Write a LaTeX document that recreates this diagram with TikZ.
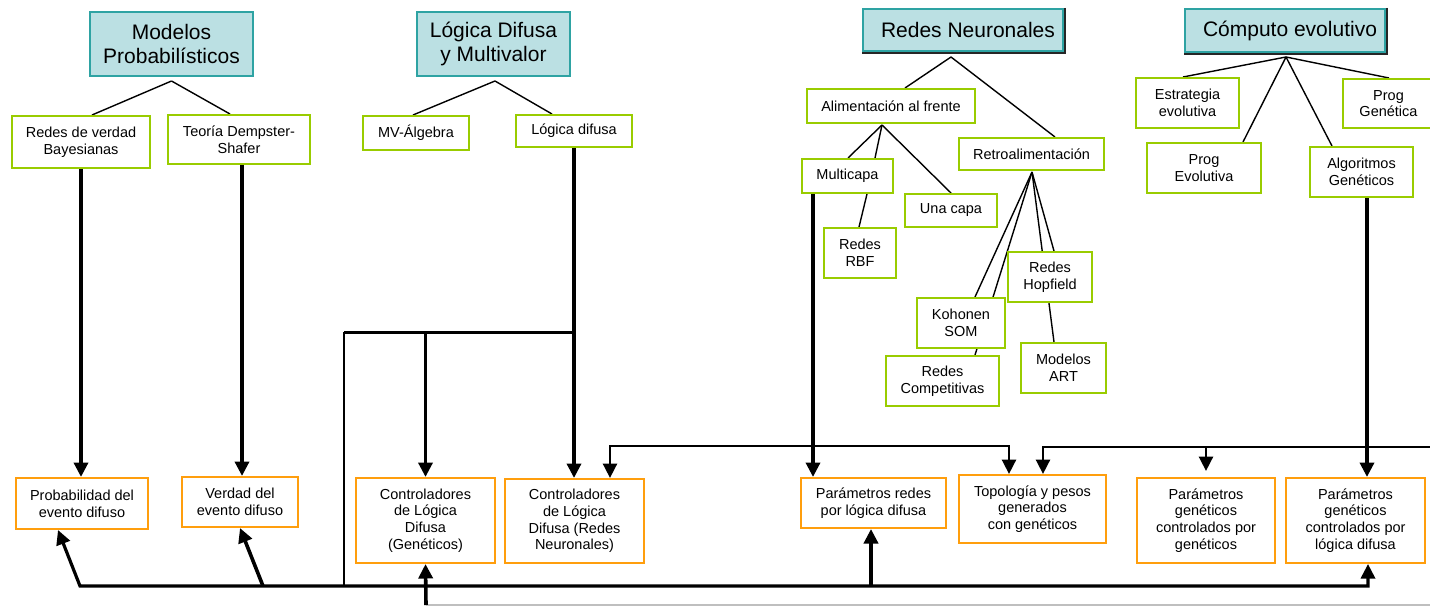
\documentclass[tikz,border=0pt]{standalone}
\usepackage{fontspec}
\setmainfont{Liberation Sans}
\usetikzlibrary{arrows.meta,backgrounds,calc}
\definecolor{tealfill}{HTML}{BBE0E3}
\definecolor{tealline}{HTML}{2EA3A3}
\definecolor{limeline}{HTML}{99CC00}
\definecolor{orangeline}{HTML}{FF9E0D}
\tikzset{
  bigtri/.tip={Triangle[length=14.5pt,width=14pt]},
  base/.style={draw, line width=2pt, align=center, inner sep=0pt, fill=white,
               font=\fontsize{14.5}{16.7}\selectfont},
  tbox/.style={base, draw=tealline, fill=tealfill, font=\fontsize{21}{23.5}\selectfont},
  gbox/.style={base, draw=limeline},
  obox/.style={base, draw=orangeline},
  sz/.style 2 args={minimum width=#1pt, minimum height=#2pt},
  tree/.style={line width=1.4pt},
  thk/.style={line width=3.6pt, -bigtri},
  thkboth/.style={line width=3.2pt, bigtri-bigtri},
  medarr/.style={line width=2.8pt, -bigtri, line join=miter},
  medboth/.style={line width=2.8pt, bigtri-bigtri, line join=miter},
  plain/.style={line width=3pt},
  shade/.style={line width=1.5pt, black!85}
}
\begin{document}
\begin{tikzpicture}[x=1pt,y=-1pt]
\useasboundingbox (0,0) rectangle (1430,607);
\clip (0,0) rectangle (1430,607);
\begin{scope}[on background layer]
  \fill[white] (0,0) rectangle (1430,607);
\end{scope}

% title boxes
\node[tbox,sz={163}{64}] (mp) at (171.5,44) {Modelos\\Probabilísticos};
\node[tbox,sz={153}{64}] (ld) at (493.5,44) {Lógica Difusa\\y Multivalor};
\node[tbox,sz={200}{42}] (rn) at (963,30) {\hspace*{10pt}Redes Neuronales};
\node[tbox,sz={200}{43}] (ce) at (1285,30.5) {\hspace*{10pt}Cómputo evolutivo};
\draw[shade] ([xshift=1pt]rn.north east) -- ([xshift=1pt,yshift=-1pt]rn.south east) -- ([yshift=-1pt]rn.south west);
\draw[shade] ([xshift=1pt]ce.north east) -- ([xshift=1pt,yshift=-1pt]ce.south east) -- ([yshift=-1pt]ce.south west);

% green boxes
\node[gbox,sz={138}{52}] (bay) at (81,142) {Redes de verdad\\Bayesianas};
\node[gbox,sz={142}{49}] (dem) at (239,139.5) {Teoría Dempster-\\Shafer};
\node[gbox,sz={106}{34}] (mv) at (416,133) {MV-Álgebra};
\node[gbox,sz={116}{32}] (ldf) at (574,131) {Lógica difusa};
\node[gbox,sz={168}{34}] (ali) at (891,106) {Alimentación al frente};
\node[gbox,sz={145}{32}] (ret) at (1031.5,154) {Retroalimentación};
\node[gbox,sz={91}{34}] (mul) at (847.5,176) {Multicapa};
\node[gbox,sz={92}{33}] (una) at (951,210.5) {Una capa};
\node[gbox,sz={72}{50}] (rbf) at (860,253) {Redes\\RBF};
\node[gbox,sz={84}{50}] (hop) at (1050,277) {Redes\\Hopfield};
\node[gbox,sz={88}{50}] (koh) at (961,323) {Kohonen\\SOM};
\node[gbox,sz={113}{50}] (com) at (942.5,381) {Redes\\Competitivas};
\node[gbox,sz={85}{50}] (art) at (1063.5,368) {Modelos\\ART};
\node[gbox,sz={103}{50}] (est) at (1187.5,103) {Estrategia\\evolutiva};
\node[gbox,sz={91}{49}] (pge) at (1388.5,103.5) {Prog\\Genética};
\node[gbox,sz={114}{50}] (pev) at (1204,168) {Prog\\Evolutiva};
\node[gbox,sz={103}{50}] (alg) at (1361.5,172) {Algoritmos\\Genéticos};

% orange boxes
\node[obox,sz={132}{51}] (pro) at (82,503.5) {Probabilidad del\\evento difuso};
\node[obox,sz={116}{50}] (ver) at (240,502) {Verdad del\\evento difuso};
\node[obox,sz={139}{85}] (cg) at (425.5,520.5) {Controladores\\de Lógica\\Difusa\\(Genéticos)};
\node[obox,sz={139}{84}] (crn) at (574.5,521) {Controladores\\de Lógica\\Difusa (Redes\\Neuronales)};
\node[obox,sz={145}{50}] (prl) at (873.5,503) {Parámetros redes\\por lógica difusa};
\node[obox,sz={147}{68}] (top) at (1032.5,509) {Topología y pesos\\generados\\con genéticos};
\node[obox,sz={138}{85}] (pgg) at (1206,520.5) {Parámetros\\genéticos\\controlados por\\genéticos};
\node[obox,sz={139}{85}] (pgl) at (1355.5,520.5) {Parámetros\\genéticos\\controlados por\\lógica difusa};

% tree lines (behind boxes)
\begin{scope}[on background layer]
  \draw[tree] ([yshift=-4pt]mp.south) -- ([xshift=11pt]bay.north);
  \draw[tree] ([yshift=-4pt]mp.south) -- ([xshift=-9pt]dem.north);
  \draw[tree] ([xshift=1.5pt,yshift=-4pt]ld.south) -- ([xshift=-3pt]mv.north);
  \draw[tree] ([xshift=1.5pt,yshift=-4pt]ld.south) -- ([xshift=-22pt]ldf.north);
  \draw[tree] ([xshift=-12pt,yshift=-5pt]rn.south) -- ([xshift=14pt]ali.north);
  \draw[tree] ([xshift=-12pt,yshift=-5pt]rn.south) -- ([xshift=23.5pt]ret.north);
  \draw[tree] ([xshift=-9pt,yshift=-1pt]ali.south) -- ([xshift=0.5pt]mul.north);
  \draw[tree] ([xshift=-9pt,yshift=-1pt]ali.south) -- ([xshift=27.5pt]mul.north);
  \draw[tree] ([xshift=-9pt,yshift=-1pt]ali.south) -- (una.north);
  \draw[tree] ([xshift=19.5pt]mul.south) -- ([xshift=-1pt]rbf.north);
  \draw[tree] ([xshift=0.5pt,yshift=-1pt]ret.south) -- ([xshift=14pt]koh.north);
  \draw[tree] ([xshift=0.5pt,yshift=-1pt]ret.south) -- ([xshift=32.5pt]com.north);
  \draw[tree] ([xshift=0.5pt,yshift=-1pt]ret.south) -- ([xshift=4pt]hop.north);
  \draw[tree] ([xshift=0.5pt,yshift=-1pt]ret.south) -- ([xshift=-9.5pt]art.north);
  \draw[tree] ([xshift=1pt,yshift=-4pt]ce.south) -- ([xshift=-4.5pt]est.north);
  \draw[tree] ([xshift=1pt,yshift=-4pt]ce.south) -- ([xshift=39pt]pev.north);
  \draw[tree] ([xshift=1pt,yshift=-4pt]ce.south) -- ([xshift=-29.5pt]alg.north);
  \draw[tree] ([xshift=1pt,yshift=-4pt]ce.south) -- ([xshift=0.5pt]pge.north);
\end{scope}

% helper coordinates
\coordinate (d1) at ([xshift=3pt]dem.south);
\coordinate (bl) at (344,332);
\coordinate (bb) at (344,586);
\coordinate (b0) at (80,586);
\coordinate (b1) at (263,586);
\coordinate (g0) at (426,605);
\coordinate (g1) at (1432,605);
\coordinate (e1) at (1432,447);
\coordinate (pa) at ([xshift=-24pt]pro.south);
\coordinate (pl) at ([xshift=12.5pt]pgl.south);
\coordinate (pr) at ([xshift=-2.5pt]prl.south);
\coordinate (m1) at ([xshift=-34.5pt]mul.south);
\coordinate (a1) at ([xshift=5.5pt]alg.south);
\coordinate (c1) at ([xshift=35.5pt]crn.north);
\coordinate (t1) at ([xshift=-23.5pt]top.north);
\coordinate (t2) at ([xshift=10.5pt]top.north);
\coordinate (q1) at ([yshift=6pt]pgg.north);

% thick connectors
\draw[thk] (bay.south) -- (bay.south |- pro.north);
\draw[thk] (d1) -- (d1 |- ver.north);
\draw[thk] (ldf.south) -- (ldf.south |- crn.north);
\draw[plain] (bl) -- (ldf.south |- bl);
\draw[line width=2.2pt] (bl) -- (bb);
\draw[thk] (cg.north |- bl) -- (cg.north);
\draw[thkboth, line join=miter] (pa) -- (b0) -- (pl |- b0) -- (pl);
\draw[thk] (b1) -- (ver.south);
\draw[thk] (pr |- b0) -- (pr);
\draw[gray!50, line width=1.2pt] (g0) -- (g1);
\draw[thk] (g0) -- (cg.south);
\draw[thk] (m1) -- (m1 |- prl.north);
\draw[thk] (a1) -- (a1 |- pgl.north);
\draw[medboth] (c1) -- ++(0,-32) -| (t1);
\draw[medarr] (e1) -| (t2);
\draw[medarr] (pgg.north |- e1) -- (q1);
\end{tikzpicture}
\end{document}
